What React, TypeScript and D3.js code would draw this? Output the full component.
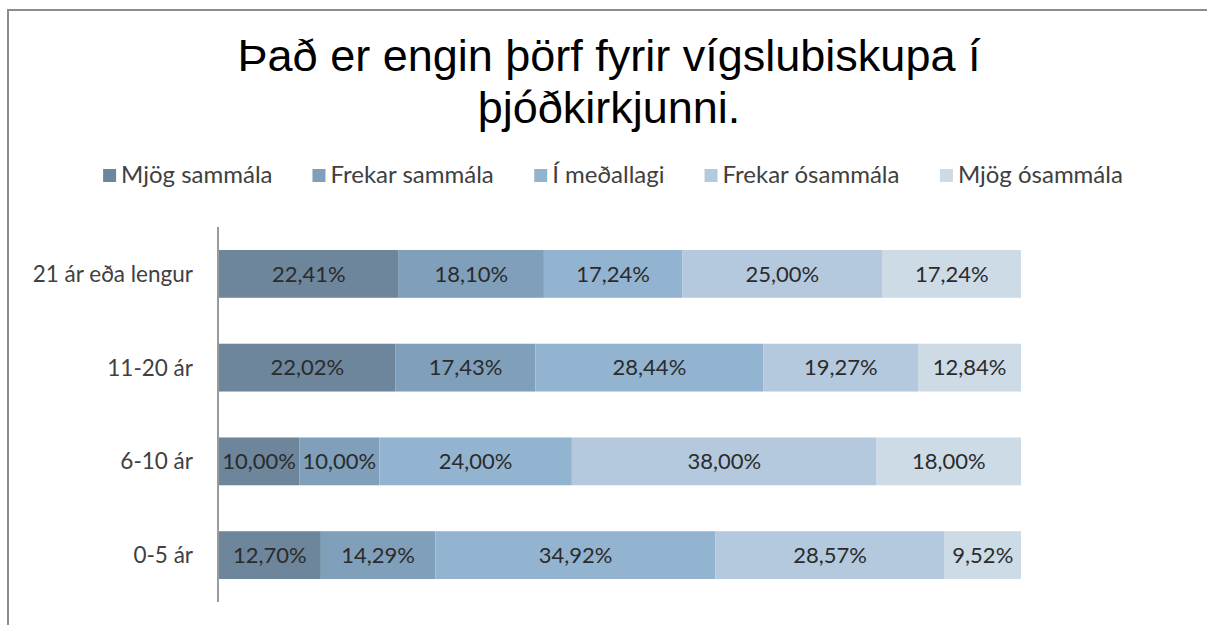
import React from "react";
import * as d3 from "d3";

const width = 1207;
const height = 625;

const categories = ["21 ár eða lengur", "11-20 ár", "6-10 ár", "0-5 ár"];
const seriesNames = ["Mjög sammála", "Frekar sammála", "Í meðallagi", "Frekar ósammála", "Mjög ósammála"];
const seriesColors = ["#6d869b", "#7f9fba", "#93b4d1", "#b4c9dd", "#cddbe7"];

// one array per series, in category order
const mjogSammala = [22.41, 22.02, 10.0, 12.7];
const frekarSammala = [18.1, 17.43, 10.0, 14.29];
const medallagi = [17.24, 28.44, 24.0, 34.92];
const frekarOsammala = [25.0, 19.27, 38.0, 28.57];
const mjogOsammala = [17.24, 12.84, 18.0, 9.52];

const titleLines = ["Það er engin þörf fyrir vígslubiskupa í", "þjóðkirkjunni."];

const labelFont = "Lato, 'Open Sans', sans-serif";
const titleFont = "'Liberation Sans', Arial, sans-serif";

const measure = (txt: string, size: number) => {
  const ctx = document.createElement("canvas").getContext("2d")!;
  ctx.font = `${size}px Lato`;
  return ctx.measureText(txt).width;
};

const fmt = (v: number) => v.toFixed(2).replace(".", ",") + "%";

const App = () => {
  const rows = categories.map((c, i) => ({
    cat: c,
    values: [mjogSammala[i], frekarSammala[i], medallagi[i], frekarOsammala[i], mjogOsammala[i]],
  }));

  const y = d3.scaleBand().domain(categories).range([227, 602]).paddingInner(0.49).paddingOuter(0.245);
  const x = d3.scaleLinear().domain([0, 100]).range([219, 1021]);

  // legend layout, centred
  const legendSize = 24;
  const sw = 13;
  const itemWidths = seriesNames.map((n) => sw + 5 + measure(n, legendSize));
  const gap = 40;
  const totalW = d3.sum(itemWidths) + gap * (seriesNames.length - 1);
  let lx = 613 - totalW / 2;
  const legendItems = seriesNames.map((n, i) => {
    const item = { name: n, color: seriesColors[i], x: lx };
    lx += itemWidths[i] + gap;
    return item;
  });

  return (
    <svg width={width} height={height} style={{ position: "fixed", left: 0, top: 0, background: "#fff" }}>
      {/* chart frame, right and bottom edges run off the picture */}
      <rect x={8} y={10} width={width + 20} height={height + 20} fill="#fff" stroke="#8c8c8c" strokeWidth={2} />

      {titleLines.map((t, i) => (
        <text key={i} x={609} y={71 + i * 52} textAnchor="middle" fontFamily={titleFont} fontSize={45} fill="#000">
          {t}
        </text>
      ))}

      {legendItems.map((d, i) => (
        <g key={i} transform={`translate(${d.x},0)`}>
          <rect x={0} y={169} width={sw} height={sw} fill={d.color} />
          <text x={sw + 5} y={183} fontFamily={labelFont} fontSize={legendSize} fill="#404040">
            {d.name}
          </text>
        </g>
      ))}

      {rows.map((r) => {
        const stack = d3.cumsum(r.values);
        return (
          <g key={r.cat}>
            <text
              x={193}
              y={y(r.cat)! + y.bandwidth() / 2}
              dy="0.35em"
              textAnchor="end"
              fontFamily={labelFont}
              fontSize={22.5}
              fill="#404040"
            >
              {r.cat}
            </text>
            {r.values.map((v, i) => {
              const x0 = x(stack[i] - v);
              const x1 = x(stack[i]);
              return (
                <g key={i}>
                  <rect x={x0} y={y(r.cat)} width={x1 - x0} height={y.bandwidth()} fill={seriesColors[i]} />
                  <text
                    x={(x0 + x1) / 2}
                    y={y(r.cat)! + y.bandwidth() / 2}
                    dy="0.35em"
                    textAnchor="middle"
                    fontFamily={labelFont}
                    fontSize={22}
                    fill="#2b2b2b"
                  >
                    {fmt(v)}
                  </text>
                </g>
              );
            })}
          </g>
        );
      })}

      <line x1={218} x2={218} y1={227} y2={602} stroke="#9a9a9a" strokeWidth={2} />
    </svg>
  );
};

export default App;
